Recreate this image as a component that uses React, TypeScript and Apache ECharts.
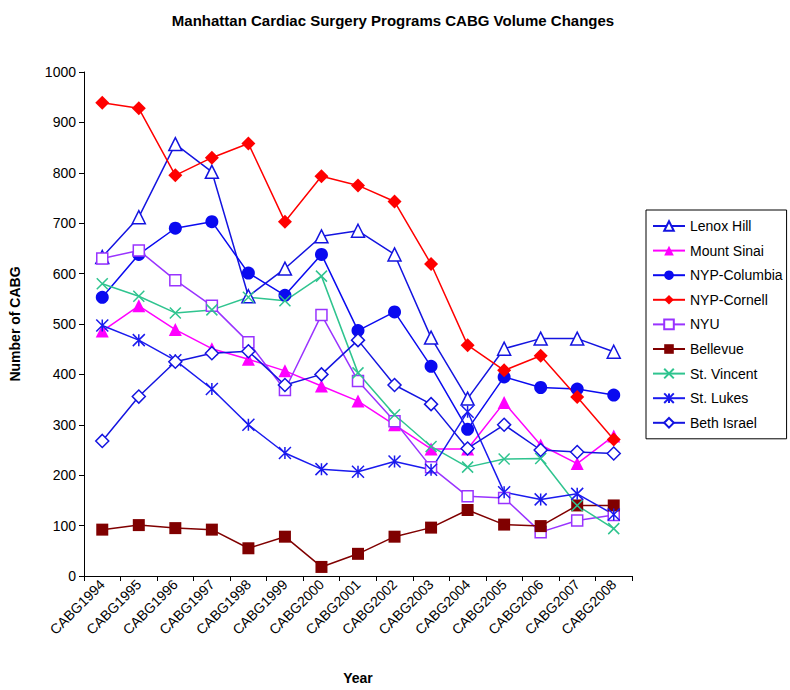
import React, { useEffect, useRef } from "react";
import * as echarts from "echarts";

const years = ["CABG1994","CABG1995","CABG1996","CABG1997","CABG1998","CABG1999","CABG2000","CABG2001","CABG2002","CABG2003","CABG2004","CABG2005","CABG2006","CABG2007","CABG2008"];
const yTicks = [0, 1000, 100];

const lenoxHill = [633, 712, 857, 802, 555, 610, 674, 685, 638, 473, 352, 451, 471, 471, 445];
const mountSinai = [486, 536, 489, 451, 430, 407, 377, 347, 300, 252, 252, 344, 260, 223, 278];
const nypColumbia = [553, 638, 690, 703, 601, 557, 638, 487, 524, 416, 291, 395, 374, 371, 359];
const nypCornell = [939, 928, 795, 830, 858, 703, 793, 775, 743, 619, 458, 408, 437, 355, 271];
const nyu = [630, 646, 587, 536, 464, 369, 518, 387, 307, 216, 158, 155, 87, 110, 121];
const bellevue = [92, 101, 95, 92, 55, 78, 18, 44, 78, 96, 131, 102, 99, 140, 140];
const stVincent = [580, 555, 522, 528, 553, 546, 595, 403, 320, 257, 216, 232, 233, 140, 94];
const stLukes = [497, 468, 428, 371, 300, 244, 212, 207, 227, 211, 326, 166, 152, 163, 122];
const bethIsrael = [268, 356, 425, 442, 446, 379, 400, 468, 379, 341, 253, 300, 250, 246, 243];

const FONT = "'Liberation Sans', Arial, sans-serif";
const X_PATH = "path://M0,0L10,10M0,10L10,0";
const STAR_PATH = "path://M5,0L5,10M0,0L10,10M0,10L10,0";

type Spec = { name: string; data: number[]; color: string; symbol: string; size: number; hollow?: boolean; stroke?: boolean };

const specs: Spec[] = [
  { name: "Lenox Hill", data: lenoxHill, color: "#1414e0", symbol: "triangle", size: 13, hollow: true },
  { name: "Mount Sinai", data: mountSinai, color: "#ff00ff", symbol: "triangle", size: 13 },
  { name: "NYP-Columbia", data: nypColumbia, color: "#0a0af0", symbol: "circle", size: 13 },
  { name: "NYP-Cornell", data: nypCornell, color: "#ff0000", symbol: "diamond", size: 14 },
  { name: "NYU", data: nyu, color: "#9933ff", symbol: "rect", size: 11, hollow: true },
  { name: "Bellevue", data: bellevue, color: "#800000", symbol: "rect", size: 12 },
  { name: "St. Vincent", data: stVincent, color: "#2fc48f", symbol: X_PATH, size: 11, stroke: true },
  { name: "St. Lukes", data: stLukes, color: "#1a1aee", symbol: STAR_PATH, size: 12, stroke: true },
  { name: "Beth Israel", data: bethIsrael, color: "#1414e0", symbol: "diamond", size: 13, hollow: true },
];

export default function App() {
  const ref = useRef<HTMLDivElement>(null);
  useEffect(() => {
    if (!ref.current) return;
    const chart = echarts.init(ref.current, null, { renderer: "svg" });
    const series = specs.map((s) => ({
      name: s.name,
      type: "line",
      data: s.data,
      symbol: s.symbol,
      symbolSize: s.size,
      showAllSymbol: true,
      lineStyle: { color: s.color, width: 1.5 },
      itemStyle: s.hollow
        ? { color: "#ffffff", borderColor: s.color, borderWidth: 1.5 }
        : s.stroke
        ? { color: s.color, borderColor: s.color, borderWidth: 1.5 }
        : { color: s.color, borderColor: s.color, borderWidth: 0 },
      emphasis: { disabled: true },
      z: 2,
    }));
    chart.setOption({
      animation: false,
      backgroundColor: "#ffffff",
      title: {
        text: "Manhattan Cardiac Surgery Programs CABG Volume Changes",
        left: 388,
        textAlign: "center",
        top: 8,
        textStyle: { fontFamily: FONT, fontSize: 15, fontWeight: "bold", color: "#000" },
      },
      legend: {
        orient: "vertical",
        left: 646,
        top: 210,
        padding: [9, 4, 9, 6],
        itemGap: 10.6,
        itemWidth: 32,
        itemHeight: 12,
        borderColor: "#000",
        borderWidth: 1,
        backgroundColor: "#fff",
        textStyle: { fontFamily: FONT, fontSize: 14, color: "#000" },
        data: specs.map((s) => s.name),
      },
      grid: { left: 82, top: 72, width: 550, height: 508, containLabel: false },
      xAxis: {
        type: "category",
        data: years,
        boundaryGap: true,
        name: "Year",
        nameLocation: "middle",
        nameGap: 95,
        nameTextStyle: { fontFamily: FONT, fontSize: 14, fontWeight: "bold", color: "#000" },
        axisLine: { lineStyle: { color: "#000", width: 1 } },
        axisTick: { show: true, length: 5, lineStyle: { color: "#000" } },
        axisLabel: { rotate: 45, fontFamily: FONT, fontSize: 14, color: "#000", margin: 6, interval: 0 },
        splitLine: { show: false },
      },
      yAxis: {
        type: "value",
        min: yTicks[0],
        max: yTicks[1],
        interval: yTicks[2],
        name: "Number of CABG",
        nameLocation: "middle",
        nameGap: 62,
        nameRotate: 90,
        nameTextStyle: { fontFamily: FONT, fontSize: 14, fontWeight: "bold", color: "#000" },
        axisLine: { show: true, lineStyle: { color: "#000", width: 1 } },
        axisTick: { show: true, length: 5, lineStyle: { color: "#000" } },
        axisLabel: { fontFamily: FONT, fontSize: 14, color: "#000", margin: 8, formatter: (v: number) => String(v) },
        splitLine: { show: false },
      },
      series,
    });
    return () => chart.dispose();
  }, []);
  return <div ref={ref} style={{ position: "absolute", left: 0, top: 0, width: 790, height: 690 }} />;
}
